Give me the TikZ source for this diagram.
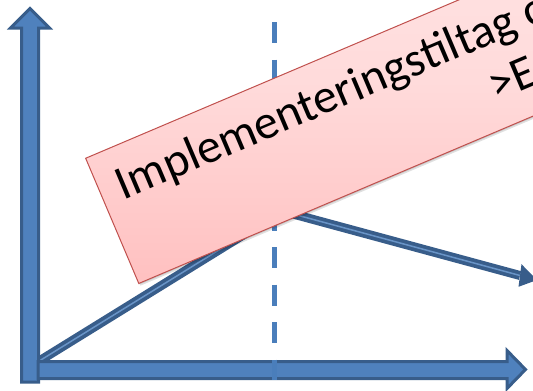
\documentclass[tikz,border=0pt]{standalone}
\usepackage{fontspec}
\setmainfont{Carlito}
\usetikzlibrary{arrows.meta,calc}
\definecolor{axdark}{HTML}{385D8A}
\definecolor{axmid}{HTML}{4F81BD}
\definecolor{dashblue}{HTML}{4A7EBB}
\definecolor{boxedge}{HTML}{C0504D}
\definecolor{boxtop}{HTML}{FFE6E6}
\definecolor{boxbot}{HTML}{FFC0C0}
\tikzset{
  axisarrow/.style={draw=axdark, fill=axmid, line width=3pt, line join=miter},
  trendline/.style={draw=axdark, line width=9pt, line join=miter},
  trendinner/.style={draw=axmid!85!white, line width=1.5pt},
  divider/.style={draw=dashblue, line width=5pt, dash pattern=on 21pt off 16.5pt},
  labelbox/.style={draw=boxedge, line width=1pt, top color=boxtop, bottom color=boxbot, middle color=boxtop!70!boxbot, minimum width=700pt, minimum height=136pt, inner sep=0pt, transform shape},
  shadowbox/.style={fill=black, opacity=0.12, minimum width=700pt, minimum height=136pt, inner sep=0pt, transform shape},
  labeltext/.style={font=\fontsize{48}{58}\selectfont, inner sep=0pt, transform shape, text=black}
}
\begin{document}
\begin{tikzpicture}[x=1pt,y=-1pt]
\useasboundingbox (0,0) rectangle (533,391);
\clip (0,0) rectangle (533,391);
% trend line
\coordinate (O) at (36,363);
\coordinate (P) at (282,211);
\coordinate (T) at (537,280);
\coordinate (Tb) at (520,275.5);
\draw[trendline] (O) -- (P) -- (Tb);
\draw[trendinner] (O) -- (P) -- (Tb);
\fill[axdark] ($(Tb)+(1.5,-11.3)$) -- (T) -- ($(Tb)+(-1.5,11.3)$) -- cycle;
% axes
\draw[axisarrow] (21.5,382) -- (21.5,28) -- (10.5,28) -- (30,8.5) -- (49.5,28) -- (38.5,28) -- (38.5,382) -- cycle;
\draw[axisarrow] (38,361.5) -- (507,361.5) -- (507,350.5) -- (525.5,369.5) -- (507,388.5) -- (507,378.5) -- (38,378.5) -- cycle;
% divider
\coordinate (D1) at (274,22);
\coordinate (D2) at (274,380);
\draw[divider] (D1) -- (D2);
% label box
\begin{scope}[shift={(85,158)}, rotate=23]
  \node[shadowbox, anchor=north west] at (1,3) {};
  \node[shadowbox, anchor=north west] at (0.5,1.5) {};
  \node[labelbox, anchor=north west] (box) at (0,0) {};
  \node[labeltext, anchor=base west] (l1) at (19,54) {Implementeringstiltag o};
  \node[labeltext, anchor=base west] (l2) at (401,109) {>E};
\end{scope}
\end{tikzpicture}
\end{document}
